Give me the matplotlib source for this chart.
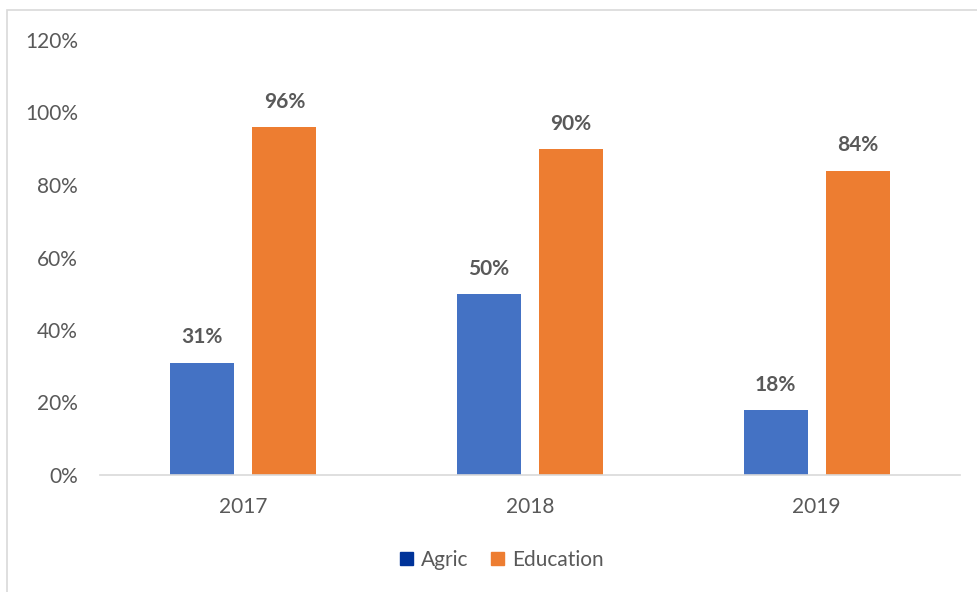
import numpy as np
import matplotlib.pyplot as plt
from matplotlib.patches import Rectangle, Patch
from matplotlib.ticker import FuncFormatter

years = ["2017", "2018", "2019"]
agric = [31, 50, 18]
education = [96, 90, 84]

plt.rcParams['font.family'] = ['Lato', 'DejaVu Sans']

fig = plt.figure(figsize=(9.77, 5.92), dpi=100)
ax = fig.add_axes([100/977, 1-475/592, 860/977, 435/592])

x = np.arange(len(years))
w = 0.223
b1 = ax.bar(x - 0.143, agric, w, color='#4472C4')
b2 = ax.bar(x + 0.143, education, w, color='#ED7D31')

# etiquetas de valor sobre cada barra
for bars, vals in [(b1, agric), (b2, education)]:
    for r, v in zip(bars, vals):
        ax.text(r.get_x() + r.get_width()/2, v + 4.2, f"{v}%", ha='center', va='bottom',
                fontsize=15, fontweight='bold', color='#595959')

ax.set_xlim(-0.5, 2.5)
ax.set_ylim(0, 120)
ax.set_yticks(range(0, 121, 20))
ax.yaxis.set_major_formatter(FuncFormatter(lambda v, p: f"{int(v)}%"))
ax.set_xticks(x)
ax.set_xticklabels(years)
ax.tick_params(length=0, labelsize=15, labelcolor='#595959')
ax.tick_params(axis='y', pad=16)
ax.tick_params(axis='x', pad=16)
for s in ['top', 'right', 'left']:
    ax.spines[s].set_visible(False)
ax.spines['bottom'].set_color('#D9D9D9')
ax.spines['bottom'].set_linewidth(1.2)

handles = [Patch(color='#003399', label='Agric'), Patch(color='#ED7D31', label='Education')]
fig.legend(handles=handles, loc='center', bbox_to_anchor=(502/977, 1-560/592), ncol=2,
           frameon=False, fontsize=15, labelcolor='#595959', handlelength=0.6,
           handleheight=0.6, handletextpad=0.4, columnspacing=1.1)

# marco del grafico
fig.patches.append(Rectangle((7/977, -0.05), 1.05, 1-10/592+0.05, transform=fig.transFigure,
                             fill=False, edgecolor='#D9D9D9', linewidth=1.2))

fig.savefig('out.png', dpi=100)
